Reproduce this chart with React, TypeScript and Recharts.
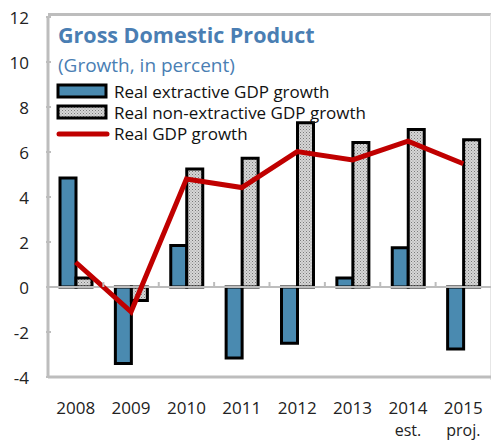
import { ComposedChart, Bar, Line, XAxis, YAxis, ReferenceLine, Legend } from "recharts";

const years = ["2008", "2009", "2010", "2011", "2012", "2013", "2014", "2015"];
const subLabels = ["", "", "", "", "", "", "est.", "proj."];
const extractive = [4.85, -3.4, 1.85, -3.15, -2.5, 0.4, 1.75, -2.75];
const nonExtractive = [0.4, -0.6, 5.25, 5.72, 7.3, 6.42, 7.0, 6.55];
const realGdp = [1.1, -1.1, 4.8, 4.42, 6.02, 5.65, 6.48, 5.48];
const yTicks = [-4, -2, 0, 2, 4, 6, 8, 10, 12];

const W = 492;
const H = 440;
const TOP = 17;
const BOTTOM = 63;
const Y_MIN = -4;
const Y_MAX = 12;
const ZERO_Y = TOP + ((H - TOP - BOTTOM) * Y_MAX) / (Y_MAX - Y_MIN);

const FONT = "'Open Sans', sans-serif";
const BLUE = "#4a8ab0";
const RED = "#c00000";
const AXIS_GRAY = "#bdbdbd";

const data = years.map((y, i) => ({
  year: y,
  sub: subLabels[i],
  extractive: extractive[i],
  nonExtractive: nonExtractive[i],
  realGdp: realGdp[i],
}));

function YTick(props: any) {
  const { x, y, payload } = props;
  return (
    <g>
      <line x1={x} x2={x + 5} y1={y} y2={y} stroke={AXIS_GRAY} strokeWidth={2} />
      <text x={x - 17} y={y} textAnchor="end" dominantBaseline="central" fontSize={17} fill="#222" fontFamily={FONT}>
        {payload.value}
      </text>
    </g>
  );
}

function XTick(props: any) {
  const { x, y, payload, index } = props;
  const half = payload.offset ?? 27.7;
  const sub = subLabels[index];
  return (
    <g>
      {index > 0 && (
        <line x1={x - half} x2={x - half} y1={ZERO_Y - 5} y2={ZERO_Y} stroke={AXIS_GRAY} strokeWidth={2} />
      )}
      <text x={x} y={y + 28} textAnchor="middle" dominantBaseline="central" fontSize={17} fill="#222" fontFamily={FONT}>
        {payload.value}
      </text>
      {sub && (
        <text x={x} y={y + 51} textAnchor="middle" dominantBaseline="central" fontSize={16} fill="#222" fontFamily={FONT}>
          {sub}
        </text>
      )}
    </g>
  );
}

function LegendBox() {
  const rows = [
    { label: "Real extractive GDP growth", kind: "blue" },
    { label: "Real non-extractive GDP growth", kind: "dots" },
    { label: "Real GDP growth", kind: "line" },
  ];
  return (
    <div style={{ fontFamily: FONT, fontSize: 17, color: "#111" }}>
      {rows.map((r) => (
        <div key={r.label} style={{ display: "flex", alignItems: "center", height: 21 }}>
          <svg width={54} height={18} style={{ marginRight: 4 }}>
            {r.kind === "line" ? (
              <line x1={3} x2={51} y1={9} y2={9} stroke={RED} strokeWidth={5} strokeLinecap="round" />
            ) : (
              <rect x={2} y={2} width={48} height={12} fill={r.kind === "blue" ? BLUE : "url(#dots)"} stroke="#000" strokeWidth={3} />
            )}
          </svg>
          <span>{r.label}</span>
        </div>
      ))}
    </div>
  );
}

export default function App() {
  return (
    <div style={{ position: "fixed", left: 0, top: 0, width: W, height: H, background: "#fff", overflow: "hidden" }}>
      <div
        style={{
          position: "absolute",
          left: 48,
          top: 13,
          width: 442,
          height: 364,
          borderTop: `3px solid ${AXIS_GRAY}`,
          borderRight: "1px solid #e6e6e6",
        }}
      />
      <div style={{ position: "absolute", left: 58, top: 20, fontFamily: FONT, color: "#4a7eb3", zIndex: 2 }}>
        <div style={{ fontSize: 21.5, fontWeight: 700, lineHeight: "30px" }}>Gross Domestic Product</div>
        <div style={{ fontSize: 19, lineHeight: "30px" }}>(Growth, in percent)</div>
      </div>
      <ComposedChart
        width={W}
        height={H}
        data={data}
        margin={{ top: TOP, right: 1, left: 0, bottom: 0 }}
        barGap={0}
        style={{ position: "absolute", left: 0, top: 0 }}
      >
        <defs>
          <pattern id="dots" width="3" height="3" patternUnits="userSpaceOnUse">
            <rect width="3" height="3" fill="#d6d6d6" />
            <rect width="1" height="1" fill="#7a7a7a" />
            <rect x="1.5" y="1.5" width="1" height="1" fill="#999" />
          </pattern>
        </defs>
        <XAxis
          dataKey="year"
          height={BOTTOM}
          axisLine={{ stroke: AXIS_GRAY, strokeWidth: 3 }}
          tickLine={false}
          tickSize={0}
          tick={<XTick />}
          interval={0}
        />
        <YAxis
          width={48}
          domain={[Y_MIN, Y_MAX]}
          ticks={yTicks}
          axisLine={{ stroke: AXIS_GRAY, strokeWidth: 3 }}
          tickLine={false}
          tickSize={0}
          tick={<YTick />}
          interval={0}
        />
        <ReferenceLine y={0} stroke={AXIS_GRAY} strokeWidth={2} />
        <Legend
          layout="vertical"
          align="center"
          verticalAlign="middle"
          content={<LegendBox />}
          wrapperStyle={{ position: "absolute", left: 56, top: 81, width: "auto", height: "auto" }}
        />
        <Bar dataKey="extractive" fill={BLUE} stroke="#000" strokeWidth={3} barSize={16} isAnimationActive={false} />
        <Bar dataKey="nonExtractive" fill="url(#dots)" stroke="#000" strokeWidth={3} barSize={16} isAnimationActive={false} />
        <Line
          dataKey="realGdp"
          stroke={RED}
          strokeWidth={5}
          dot={false}
          strokeLinejoin="miter"
          isAnimationActive={false}
        />
      </ComposedChart>
    </div>
  );
}
